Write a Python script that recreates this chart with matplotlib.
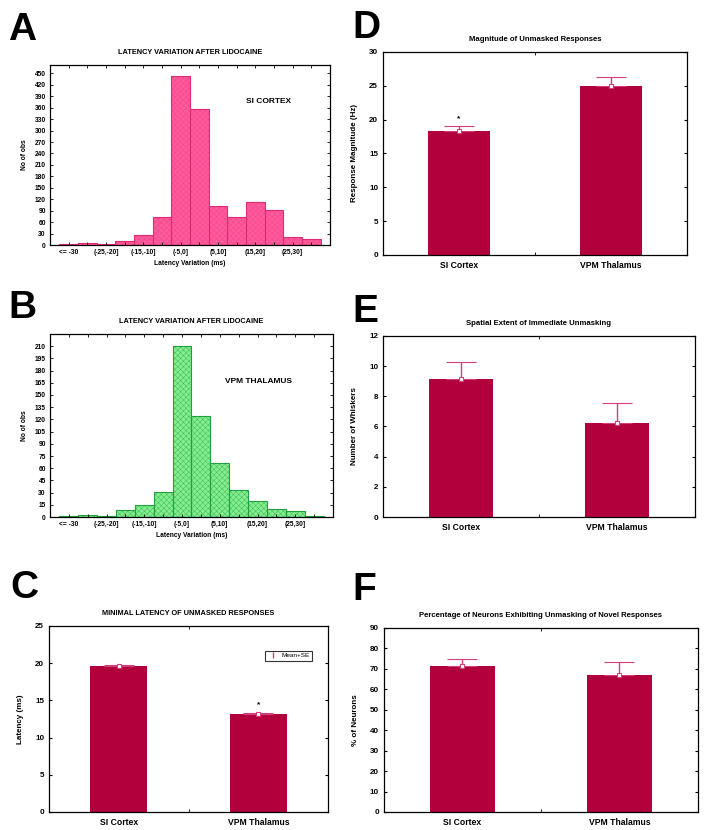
import matplotlib
matplotlib.use('Agg')
import matplotlib.pyplot as plt
import numpy as np

plt.rcParams['font.family'] = ['Liberation Sans', 'DejaVu Sans']
plt.rcParams['font.weight'] = 'bold'
plt.rcParams['axes.titleweight'] = 'bold'
plt.rcParams['axes.labelweight'] = 'bold'
plt.rcParams['hatch.linewidth'] = 0.35

# histogram data
bins = ['<= -30', '(-30,-25]', '(-25,-20]', '(-20,-15]', '(-15,-10]', '(-10,-5]', '(-5,0]',
        '(0,5]', '(5,10]', '(10,15]', '(15,20]', '(20,25]', '(25,30]', '> 30']
cortex_counts = [2, 5, 2, 11, 26, 73, 442, 357, 102, 73, 112, 93, 21, 16]
thalamus_counts = [1, 3, 1, 9, 15, 31, 210, 124, 66, 33, 20, 10, 7, 1]

# bar chart data: mean and mean+SE
groups = ['SI Cortex', 'VPM Thalamus']
latency_mean = [19.65, 13.15]
latency_upper = [19.8, 13.3]
magnitude_mean = [18.35, 24.95]
magnitude_upper = [19.1, 26.3]
whiskers_mean = [9.15, 6.2]
whiskers_upper = [10.3, 7.55]
percent_mean = [71.5, 66.8]
percent_upper = [75.0, 73.5]

BAR = '#b1003b'
ERR = '#d0407a'

fig = plt.figure(figsize=(7.1, 8.3), dpi=100)


def hist_panel(rect, counts, face, hatchcol, edge, ylim, step, label, label_xy):
    ax = fig.add_axes(rect)
    x = np.arange(len(counts))
    # texture first (hatch takes the edge colour), outline on top
    ax.bar(x, counts, width=1.0, color=face, edgecolor=hatchcol, linewidth=0, hatch='xxxxxx')
    ax.bar(x, counts, width=1.0, fill=False, edgecolor=edge, linewidth=0.8)
    ax.set_xlim(-1, len(counts))
    ax.set_ylim(0, ylim)
    ax.set_yticks(np.arange(0, ylim, step))
    ax.set_xticks(x[::2])
    ax.set_xticklabels(bins[::2])
    ax.set_xticks(x, minor=True)
    ax.tick_params(axis='both', which='both', direction='in', labelsize=4.8, length=2.5,
                   top=True, right=True, width=0.6, pad=3)
    ax.set_ylabel('No of obs', fontsize=4.8, labelpad=5)
    ax.set_xlabel('Latency Variation (ms)', fontsize=4.8, labelpad=3)
    ax.set_title('LATENCY VARIATION AFTER LIDOCAINE', fontsize=5.3, pad=8)
    ax.text(label_xy[0], label_xy[1], label, transform=ax.transAxes, fontsize=6)
    for s in ax.spines.values():
        s.set_linewidth(0.9)
    return ax


def bar_panel(rect, mean, upper, ylim, step, title, ylabel, star=None, legend=False,
              title_size=5.6, label_size=5.8):
    ax = fig.add_axes(rect)
    x = np.arange(len(mean))
    ax.bar(x, mean, width=0.41, color=BAR, edgecolor='none')
    err = [np.zeros(len(mean)), np.array(upper) - np.array(mean)]
    ax.errorbar(x, mean, yerr=err, fmt='s', color=ERR, ecolor=ERR, elinewidth=1.0,
                capsize=11, capthick=1.0, markersize=3, markerfacecolor='white',
                markeredgecolor=ERR, markeredgewidth=0.8)
    if star is not None:
        ax.text(star[0], star[1], '*', ha='center', va='center', fontsize=6)
    ax.set_xlim(-0.5, 1.5)
    ax.set_ylim(0, ylim)
    ax.set_yticks(np.arange(0, ylim + step / 2, step))
    ax.set_xticks(x)
    ax.set_xticklabels(groups)
    ax.set_xticks([0.5], minor=True)
    ax.tick_params(axis='x', which='major', length=0, labelsize=6.2, pad=4)
    ax.tick_params(axis='x', which='minor', direction='in', length=2.5, top=True, bottom=True)
    ax.tick_params(axis='y', direction='in', length=2.5, right=True, labelsize=label_size)
    ax.set_ylabel(ylabel, fontsize=5.8, labelpad=8)
    ax.set_title(title, fontsize=title_size, pad=8)
    for s in ax.spines.values():
        s.set_linewidth(0.9)
    if legend:
        eb2 = ax.errorbar([], [], yerr=[], fmt='none', ecolor=ERR, capsize=4, capthick=1.2,
                          elinewidth=1.0)
        leg = ax.legend([eb2], ['Mean+SE'], loc='upper right', bbox_to_anchor=(0.955, 0.885),
                        fontsize=4.6, frameon=True, fancybox=False, edgecolor='black',
                        handlelength=1.6, borderpad=0.35, handletextpad=0.6)
        leg.get_frame().set_linewidth(0.8)
        for t in leg.get_texts():
            t.set_fontweight('normal')
    return ax


hist_panel([0.0704, 0.7048, 0.3944, 0.2169], cortex_counts, '#ff5a9c', '#f0488a', '#e02a74',
           472, 30, 'SI CORTEX', (0.70, 0.79))
hist_panel([0.0704, 0.3771, 0.3986, 0.2205], thalamus_counts, '#86ec92', '#3cbf55', '#1fa23c',
           225, 15, 'VPM THALAMUS', (0.62, 0.73))

bar_panel([0.069, 0.0217, 0.393, 0.2241], latency_mean, latency_upper, 25, 5,
          'MINIMAL LATENCY OF UNMASKED RESPONSES', 'Latency (ms)', star=(1, 14.4),
          legend=True, title_size=5.3)
bar_panel([0.5394, 0.6928, 0.4282, 0.2446], magnitude_mean, magnitude_upper, 30, 5,
          'Magnitude of Unmasked Responses', 'Response Magnitude (Hz)', star=(0, 20.2))
bar_panel([0.5394, 0.3771, 0.4394, 0.2181], whiskers_mean, whiskers_upper, 12, 2,
          'Spatial Extent of Immediate Unmasking', 'Number of Whiskers')
bar_panel([0.5408, 0.0217, 0.4423, 0.2217], percent_mean, percent_upper, 90, 10,
          'Percentage of Neurons Exhibiting Unmasking of Novel Responses', '% of Neurons')

for letter, (px, py) in zip('ABCDEF', [(8, 40), (8, 318), (10, 598), (352, 38), (352, 322), (352, 600)]):
    fig.text(px / 710, 1 - py / 830, letter, fontsize=28, fontweight='bold', ha='left', va='baseline')

fig.savefig('out.png', dpi=100)
